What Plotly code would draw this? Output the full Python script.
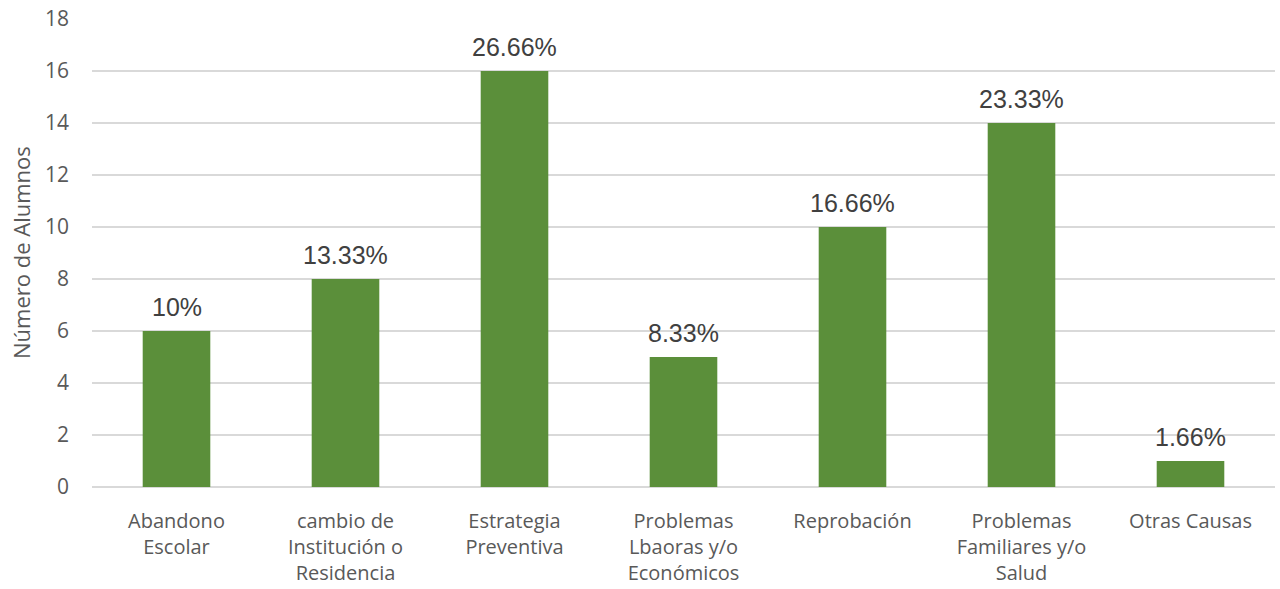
import plotly.graph_objects as go

categories = [
    "Abandono<br>Escolar",
    "cambio de<br>Institución o<br>Residencia",
    "Estrategia<br>Preventiva",
    "Problemas<br>Lbaoras y/o<br>Económicos",
    "Reprobación",
    "Problemas<br>Familiares y/o<br>Salud",
    "Otras Causas",
]
values = [6, 8, 16, 5, 10, 14, 1]
pct_labels = ["10%", "13.33%", "26.66%", "8.33%", "16.66%", "23.33%", "1.66%"]
y_title = "Número de Alumnos"

fig = go.Figure()
fig.add_trace(go.Bar(
    x=categories, y=values,
    marker=dict(color="#5B8F3A", line=dict(width=0)),
    hoverinfo="skip",
))

for c, v, t in zip(categories, values, pct_labels):
    fig.add_annotation(
        x=c, y=v, text=t, showarrow=False,
        yanchor="bottom", yshift=8,
        font=dict(family="Liberation Sans, Arial", size=25, color="#404040"),
    )

fig.add_annotation(
    x=0, xref="paper", y=0.5, yref="paper", xshift=-71,
    text=y_title, textangle=-90, showarrow=False,
    xanchor="center", yanchor="middle",
    font=dict(family="Open Sans", size=22, color="#595959"),
)

fig.update_layout(
    width=1280, height=589,
    margin=dict(l=92, r=5, t=19, b=102),
    paper_bgcolor="white", plot_bgcolor="white",
    bargap=0.6,
    showlegend=False,
    font=dict(family="Open Sans, sans-serif", size=21, color="#595959"),
    xaxis=dict(
        automargin=False,
        showgrid=False, showline=False, ticks="",
        ticklabelstandoff=20,
        tickfont=dict(family="Open Sans", size=20, color="#595959"),
    ),
    yaxis=dict(
        automargin=False,
        range=[0, 18.005], tickmode="linear", tick0=0, dtick=2,
        ticklabeloverflow="allow",
        showgrid=True, gridcolor="#D9D9D9", gridwidth=1.5,
        zeroline=True, zerolinecolor="#D9D9D9", zerolinewidth=1.5,
        showline=False, ticks="", ticklabelstandoff=22,
        tickfont=dict(family="Open Sans", size=21, color="#595959"),
    ),
)

# remove the browser's default 8px body margin so the figure fills the window
fig.write_html(
    "out.html",
    config={"displayModeBar": False},
    post_script="document.body.style.margin='0';document.body.style.overflow='hidden';",
)
